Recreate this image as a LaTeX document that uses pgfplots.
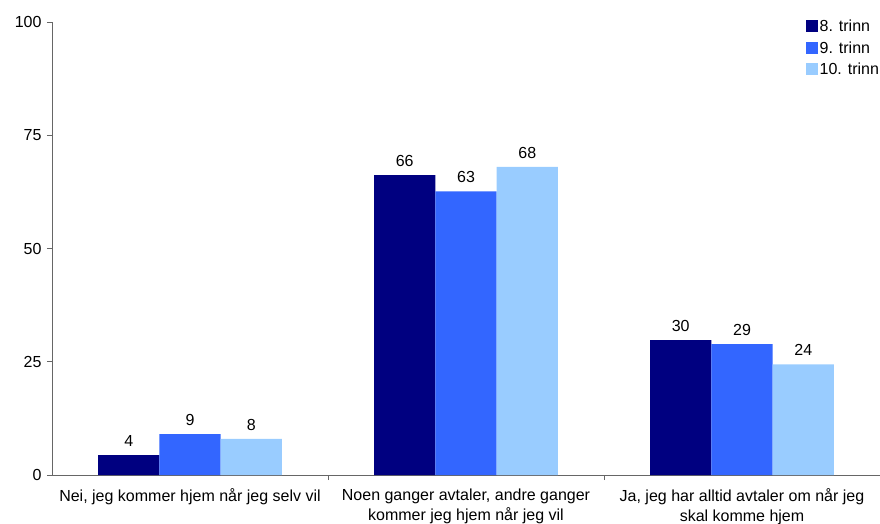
\documentclass[border=0pt]{standalone}
\usepackage{pgfplots}
\pgfplotsset{compat=1.18}
\usepackage{fontspec}
\setmainfont{Liberation Sans}
\definecolor{c8}{HTML}{000080}
\definecolor{c9}{HTML}{3366FF}
\definecolor{c10}{HTML}{99CCFF}
\begin{document}
\fontsize{16}{19}\selectfont
\begin{tikzpicture}
\begin{axis}[
  name=ax,
  scale only axis,
  width=828pt, height=453pt,
  ybar=0pt, bar width=61.3pt,
  xmin=-0.5, xmax=2.5,
  ymin=0, ymax=100,
  ytick={0,25,50,75,100},
  xtick={0,1,2},
  xticklabels={{Nei, jeg kommer hjem når jeg selv vil},{Noen ganger avtaler, andre ganger\\kommer jeg hjem når jeg vil},{Ja, jeg har alltid avtaler om når jeg\\skal komme hjem}},
  xticklabel style={align=center, font=\fontsize{16}{20}\selectfont, yshift=-3pt},
  yticklabel style={font=\fontsize{16}{19}\selectfont},
  major x tick style={draw=none},
  minor xtick={0.5,1.5,2.5},
  minor tick length=5pt,
  major tick length=5pt,
  tick align=outside,
  axis x line*=bottom, axis y line*=left,
  axis line style={gray!80!black, line width=0.8pt},
  every tick/.style={gray!80!black, line width=0.8pt},
  /pgf/number format/assume math mode=true,
  nodes near coords={\pgfmathprintnumber[fixed,precision=0]{\pgfplotspointmeta}},
  every node near coord/.append style={font=\fontsize{16}{19}\selectfont, black, yshift=3pt},
  legend style={draw=none, fill=none, at={(1.005,1.013)}, anchor=north east, font=\fontsize{16}{19}\selectfont, row sep=3.5pt},
  legend cell align=left,
  legend image code/.code={\fill[#1] (0pt,-5pt) rectangle (12pt,7pt);},
  clip=false,
]
\addplot[fill=c8, draw=none] coordinates {(0,4.4) (1,66.2) (2,29.8)};
\addplot[fill=c9, draw=none] coordinates {(0,9.0) (1,62.6) (2,28.9)};
\addplot[fill=c10, draw=none] coordinates {(0,8.0) (1,68.0) (2,24.4)};
\legend{8. trinn, 9. trinn, 10. trinn}
\end{axis}
\pgfresetboundingbox
\useasboundingbox (-52pt,-48pt) rectangle (828pt,475pt);
\end{tikzpicture}
\end{document}
